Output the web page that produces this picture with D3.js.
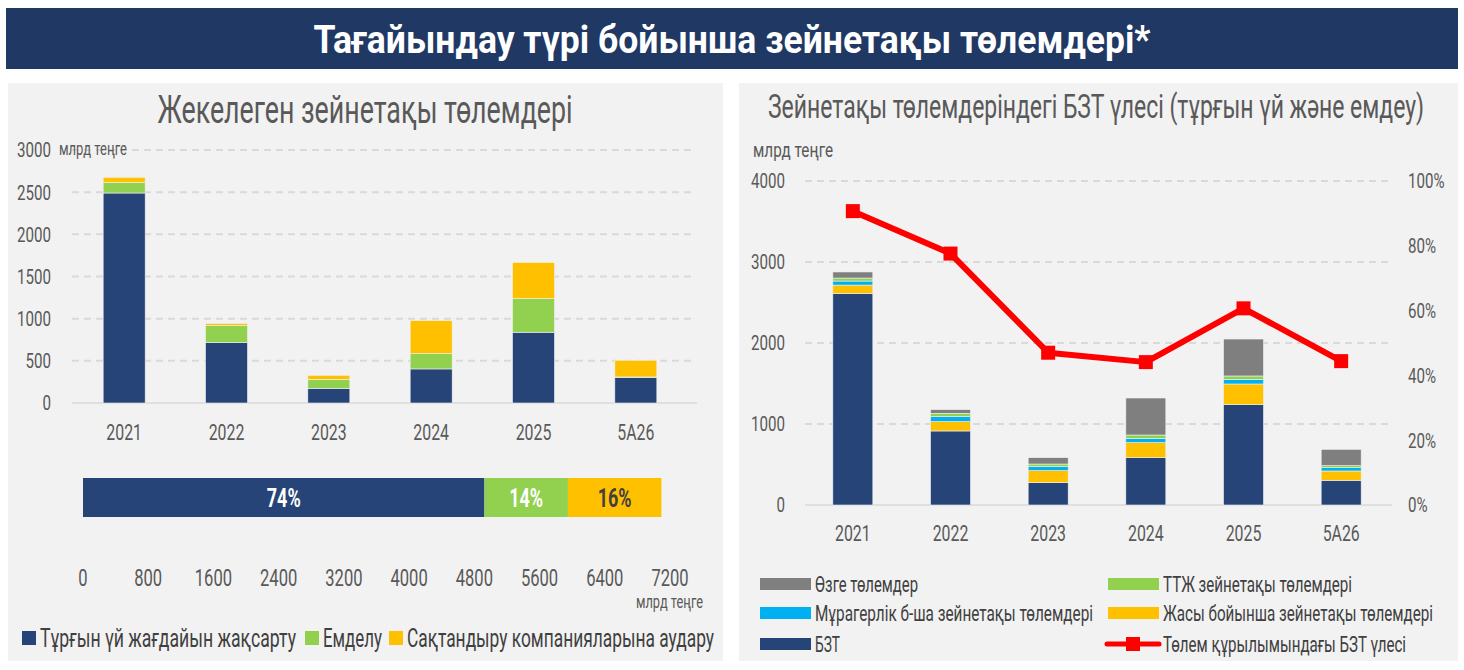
<!DOCTYPE html>
<html lang="kk">
<head>
<meta charset="UTF-8">
<title>Тағайындау түрі бойынша зейнетақы төлемдері</title>
<script src="https://d3js.org/d3.v7.min.js"></script>
<style>
  body { margin: 0; background: #fff; }
  svg text { font-family: Roboto, "Noto Sans", sans-serif; fill: #595959; }
  .grid { stroke: #d9d9d9; stroke-width: 2; stroke-dasharray: 7 5; }
  .base { stroke: #d9d9d9; stroke-width: 1.5; }
</style>
</head>
<body>
<svg id="chart" width="1464" height="670"></svg>
<script>
// категориялар
const years = ["2021", "2022", "2023", "2024", "2025", "5A26"];

// сол жақ: жекелеген зейнетақы төлемдері, млрд теңге
const housing   = [2490, 716, 174, 404, 839, 301];
const treatment = [125, 202, 107, 182, 400, 8];
const insurance = [60, 24, 47, 391, 427, 198];
const shareLabels = ["74%", "14%", "16%"];
const leftTicks = [0, 500, 1000, 1500, 2000, 2500, 3000];
const hTicks = [0, 800, 1600, 2400, 3200, 4000, 4800, 5600, 6400, 7200];

// оң жақ: төлемдер құрылымы, млрд теңге
const bzt        = [2610, 914, 276, 584, 1239, 305];
const agePay     = [105, 115, 148, 186, 255, 115];
const survivor   = [50, 62, 49, 53, 57, 41];
const disability = [37, 41, 33, 41, 42, 25];
const other      = [75, 45, 78, 457, 456, 201];
const bztShare   = [90.7, 77.6, 47.0, 44.1, 60.7, 44.4];
const rightTicks = [0, 1000, 2000, 3000, 4000];
const pctTicks = [0, 20, 40, 60, 80, 100];

const C = {
  navy: "#264478", green: "#92d050", yellow: "#ffc000",
  blue: "#00b0f0", gray: "#7f7f7f", red: "#ff0000", banner: "#203864"
};

// шрифт тар (condensed) емес, сондықтан мәтінді қысамыз
const K = 0.72;
const fit = (sel, w) => sel.attr("textLength", w).attr("lengthAdjust", "spacingAndGlyphs");

const svg = d3.select("#chart");

// тақырып
svg.append("rect").attr("x", 6).attr("y", 8).attr("width", 1452).attr("height", 61).attr("fill", C.banner);
svg.append("text").attr("x", 732).attr("y", 53).attr("text-anchor", "middle")
  .attr("font-size", 39).attr("font-weight", "bold").style("fill", "#fff")
  .text("Тағайындау түрі бойынша зейнетақы төлемдері*").call(fit, 837);

// панельдер
svg.append("rect").attr("x", 8).attr("y", 83).attr("width", 715).attr("height", 578).attr("fill", "#f2f2f2");
svg.append("rect").attr("x", 739).attr("y", 83).attr("width", 719).attr("height", 578).attr("fill", "#f2f2f2");

// ---------- сол жақ график ----------
const L = svg.append("g");
L.append("text").attr("x", 365).attr("y", 123).attr("text-anchor", "middle")
  .attr("font-size", 39).text("Жекелеген зейнетақы төлемдері").call(fit, 415);

const yL = d3.scaleLinear().domain([0, 3000]).range([403, 150]);
const xL = d3.scalePoint().domain(years).range([73, 687]).padding(0.5);
const bwL = 42;

L.selectAll(".grid").data(leftTicks.filter(d => d > 0)).enter().append("line")
  .attr("class", "grid").attr("x1", 72).attr("x2", 693)
  .attr("y1", d => yL(d)).attr("y2", d => yL(d));
L.append("line").attr("class", "base").attr("x1", 72).attr("x2", 697)
  .attr("y1", yL(0)).attr("y2", yL(0));

L.selectAll(".ytick").data(leftTicks).enter().append("text")
  .attr("x", 51).attr("y", d => yL(d)).attr("dy", "0.35em").attr("text-anchor", "end")
  .attr("font-size", 21).text(d => d);
L.append("text").attr("x", 59).attr("y", 155).attr("font-size", 19).text("млрд теңге").call(fit, 68);

L.selectAll(".xtick").data(years).enter().append("text")
  .attr("x", d => xL(d)).attr("y", 432).attr("dy", "0.35em").attr("text-anchor", "middle")
  .attr("font-size", 22).text(d => d);

const leftKeys = ["housing", "treatment", "insurance"];
const leftCols = [C.navy, C.green, C.yellow];
const leftRows = years.map((y, i) => ({ year: y, housing: housing[i], treatment: treatment[i], insurance: insurance[i] }));
const leftStack = d3.stack().keys(leftKeys)(leftRows);

L.selectAll(".ser").data(leftStack).enter().append("g")
  .attr("fill", (d, i) => leftCols[i])
  .selectAll("rect").data(d => d).enter().append("rect")
  .attr("x", d => xL(d.data.year) - bwL / 2).attr("width", bwL)
  .attr("y", d => yL(d[1])).attr("height", d => yL(d[0]) - yL(d[1]))
  .attr("stroke", "#f2f2f2").attr("stroke-width", 0.6);

// көлденең жиынтық бағана
const totals = [d3.sum(housing), d3.sum(treatment), d3.sum(insurance)];
const xH = d3.scaleLinear().domain([0, 7200]).range([83, 670]);
let acc = 0;
const hSegs = totals.map((v, i) => { const s = { x0: acc, x1: acc + v, lab: shareLabels[i], col: leftCols[i] }; acc += v; return s; });
L.selectAll(".hbar").data(hSegs).enter().append("rect")
  .attr("x", d => xH(d.x0)).attr("width", d => xH(d.x1) - xH(d.x0))
  .attr("y", 478).attr("height", 39).attr("fill", d => d.col);
L.selectAll(".hlab").data(hSegs).enter().append("text")
  .attr("x", d => (xH(d.x0) + xH(d.x1)) / 2).attr("y", 498).attr("dy", "0.35em")
  .attr("text-anchor", "middle").attr("font-size", 25).attr("font-weight", "bold")
  .style("fill", (d, i) => i === 2 ? "#404040" : "#fff").text(d => d.lab);

L.selectAll(".htick").data(hTicks).enter().append("text")
  .attr("x", d => xH(d)).attr("y", 578).attr("dy", "0.35em").attr("text-anchor", "middle")
  .attr("font-size", 23).text(d => d);
L.append("text").attr("x", 703).attr("y", 608).attr("text-anchor", "end")
  .attr("font-size", 19).text("млрд теңге").call(fit, 67);

const leftLegend = ["Тұрғын үй жағдайын жақсарту", "Емделу", "Сақтандыру компанияларына аудару"];
const leftLegX = [22, 305, 389];
const leftLegW = [256, 59, 307];
leftLegend.forEach((t, i) => {
  L.append("rect").attr("x", leftLegX[i]).attr("y", 631).attr("width", 14).attr("height", 14).attr("fill", leftCols[i]);
  L.append("text").attr("x", leftLegX[i] + 18).attr("y", 638).attr("dy", "0.35em")
    .attr("font-size", 26).style("fill", "#404040").text(t).call(fit, leftLegW[i]);
});

// ---------- оң жақ график ----------
const R = svg.append("g");
R.append("text").attr("x", 1096).attr("y", 118).attr("text-anchor", "middle")
  .attr("font-size", 33).text("Зейнетақы төлемдеріндегі БЗТ үлесі (тұрғын үй және емдеу)").call(fit, 656);

const yR = d3.scaleLinear().domain([0, 4000]).range([505, 181]);
const yP = d3.scaleLinear().domain([0, 100]).range([505, 181]);
const xR = d3.scalePoint().domain(years).range([804, 1390]).padding(0.5);
const bwR = 40;

R.selectAll(".grid").data(rightTicks.filter(d => d > 0)).enter().append("line")
  .attr("class", "grid").attr("x1", 805).attr("x2", 1390)
  .attr("y1", d => yR(d)).attr("y2", d => yR(d));
R.append("line").attr("class", "base").attr("x1", 805).attr("x2", 1392)
  .attr("y1", yR(0)).attr("y2", yR(0));

R.selectAll(".ytick").data(rightTicks).enter().append("text")
  .attr("x", 785).attr("y", d => yR(d)).attr("dy", "0.35em").attr("text-anchor", "end")
  .attr("font-size", 21).text(d => d);
R.selectAll(".ptick").data(pctTicks).enter().append("text")
  .attr("x", 1408).attr("y", d => yP(d)).attr("dy", "0.35em")
  .attr("font-size", 21).text(d => d + "%");
R.append("text").attr("x", 753).attr("y", 157).attr("font-size", 20).text("млрд теңге").call(fit, 80);

R.selectAll(".xtick").data(years).enter().append("text")
  .attr("x", d => xR(d)).attr("y", 533).attr("dy", "0.35em").attr("text-anchor", "middle")
  .attr("font-size", 22).text(d => d);

const rightKeys = ["bzt", "agePay", "survivor", "disability", "other"];
const rightCols = [C.navy, C.yellow, C.blue, C.green, C.gray];
const rightRows = years.map((y, i) => ({
  year: y, bzt: bzt[i], agePay: agePay[i], survivor: survivor[i], disability: disability[i], other: other[i]
}));
const rightStack = d3.stack().keys(rightKeys)(rightRows);

R.selectAll(".ser").data(rightStack).enter().append("g")
  .attr("fill", (d, i) => rightCols[i])
  .selectAll("rect").data(d => d).enter().append("rect")
  .attr("x", d => xR(d.data.year) - bwR / 2).attr("width", bwR)
  .attr("y", d => yR(d[1])).attr("height", d => yR(d[0]) - yR(d[1]))
  .attr("stroke", "#f2f2f2").attr("stroke-width", 0.6);

// БЗТ үлесі сызығы
const line = d3.line().x((d, i) => xR(years[i])).y(d => yP(d));
R.append("path").datum(bztShare).attr("d", line)
  .attr("fill", "none").attr("stroke", C.red).attr("stroke-width", 6).attr("stroke-linejoin", "round");
R.selectAll(".mk").data(bztShare).enter().append("rect")
  .attr("x", (d, i) => xR(years[i]) - 7).attr("y", d => yP(d) - 7)
  .attr("width", 14).attr("height", 14).attr("fill", C.red);

// аңыз
const rightLegend = [
  { t: "Өзге төлемдер", c: C.gray, x: 760, y: 584, w: 103 },
  { t: "ТТЖ зейнетақы төлемдері", c: C.green, x: 1108, y: 584, w: 189 },
  { t: "Мұрагерлік б-ша зейнетақы төлемдері", c: C.blue, x: 760, y: 613, w: 278 },
  { t: "Жасы бойынша зейнетақы төлемдері", c: C.yellow, x: 1108, y: 613, w: 270 },
  { t: "БЗТ", c: C.navy, x: 760, y: 644, w: 25 }
];
rightLegend.forEach(d => {
  R.append("rect").attr("x", d.x).attr("y", d.y - 6).attr("width", 51).attr("height", 12).attr("fill", d.c);
  R.append("text").attr("x", d.x + 55).attr("y", d.y).attr("dy", "0.35em")
    .attr("font-size", 22).style("fill", "#404040").text(d.t).call(fit, d.w);
});
R.append("line").attr("x1", 1107).attr("x2", 1159).attr("y1", 644).attr("y2", 644)
  .attr("stroke", C.red).attr("stroke-width", 5).attr("stroke-linecap", "round");
R.append("rect").attr("x", 1126).attr("y", 637).attr("width", 14).attr("height", 14).attr("fill", C.red);
R.append("text").attr("x", 1163).attr("y", 644).attr("dy", "0.35em")
  .attr("font-size", 22).style("fill", "#404040").text("Төлем құрылымындағы БЗТ үлесі").call(fit, 243);

// қалған мәтіндерді (сандар) қысу
svg.selectAll("text").filter(function () { return !this.hasAttribute("textLength"); })
  .each(function () {
    const w = this.getComputedTextLength();
    d3.select(this).call(fit, w * K);
  });
</script>
</body>
</html>
